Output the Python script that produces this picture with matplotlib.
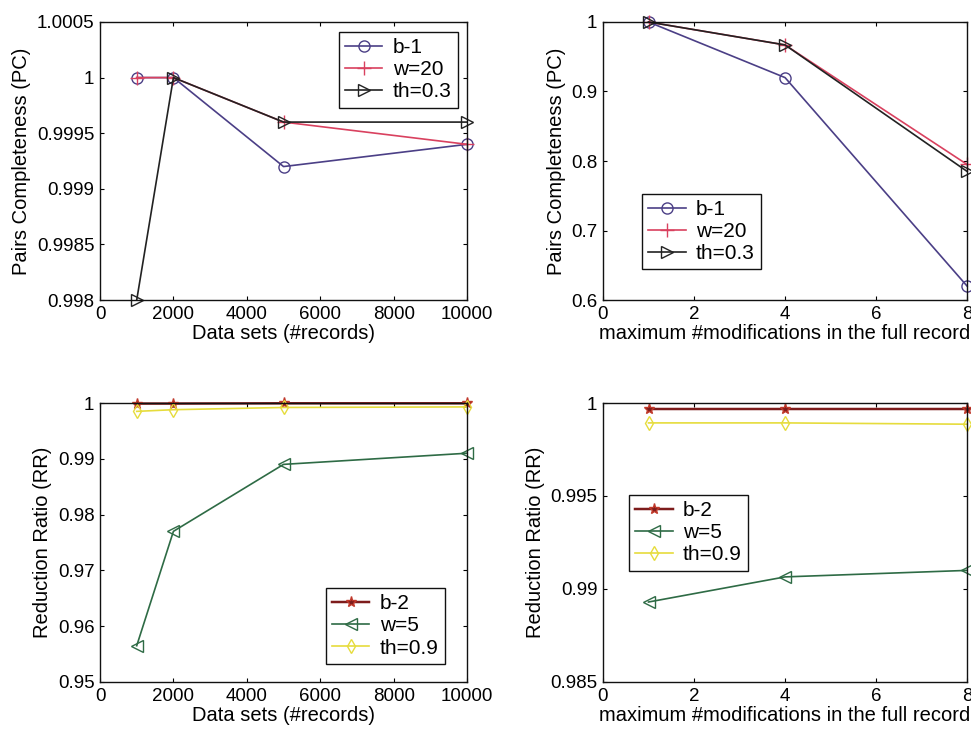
import matplotlib
matplotlib.use("Agg")
import matplotlib.pyplot as plt
from matplotlib.ticker import FuncFormatter

plt.rcParams['font.family'] = ['Liberation Sans', 'DejaVu Sans']
plt.rcParams['font.size'] = 14

# ---- data ----
records = [1000, 2000, 5000, 10000]
mods = [1, 4, 8]

pc_rec_b1 = [1.0, 1.0, 0.9992, 0.9994]
pc_rec_w20 = [1.0, 1.0, 0.9996, 0.9994]
pc_rec_th03 = [0.998, 1.0, 0.9996, 0.9996]

pc_mod_b1 = [1.0, 0.92, 0.62]
pc_mod_w20 = [1.0, 0.967, 0.795]
pc_mod_th03 = [1.0, 0.967, 0.785]

rr_rec_b2 = [0.9999, 0.9999, 0.99995, 0.99995]
rr_rec_w5 = [0.9565, 0.977, 0.989, 0.991]
rr_rec_th09 = [0.9985, 0.9988, 0.9992, 0.9993]

rr_mod_b2 = [0.99966, 0.99966, 0.99966]
rr_mod_w5 = [0.9893, 0.99065, 0.9910]
rr_mod_th09 = [0.99893, 0.99893, 0.99886]

labels_top = ['b-1', 'w=20', 'th=0.3']
labels_bot = ['b-2', 'w=5', 'th=0.9']

c_b1 = '#4b3f86'
c_w20 = '#d9415f'
c_th03 = '#222222'
c_b2 = '#7d1c1c'
c_w5 = '#2e6b45'
c_th09 = '#e6dc3c'

fig = plt.figure(figsize=(9.71, 7.33), dpi=100)
ax1 = fig.add_axes([0.103, 0.5907, 0.378, 0.3793])
ax2 = fig.add_axes([0.621, 0.5907, 0.375, 0.3793])
ax3 = fig.add_axes([0.103, 0.0696, 0.378, 0.3806])
ax4 = fig.add_axes([0.621, 0.0696, 0.375, 0.3806])

def g_fmt(v, pos):
    return '%g' % round(v, 6)

def style(ax):
    ax.tick_params(direction='in', top=True, right=True, length=3, width=0.8, labelsize=13.5, pad=4)
    for s in ax.spines.values():
        s.set_linewidth(1.0)
        s.set_color('#111111')
    ax.yaxis.set_major_formatter(FuncFormatter(g_fmt))
    ax.xaxis.set_major_formatter(FuncFormatter(g_fmt))

leg_kw = dict(fancybox=False, edgecolor='#111111', framealpha=1, handlelength=1.8,
              handletextpad=0.5, borderpad=0.3, labelspacing=0.15, fontsize=15, borderaxespad=0)

lw = 1.2
ms = 8
lab_fs = 14.5
# top-left
ax1.plot(records, pc_rec_b1, color=c_b1, marker='o', mfc='none', ms=ms, lw=lw, label=labels_top[0])
ax1.plot(records, pc_rec_w20, color=c_w20, marker='+', ms=ms + 2, lw=lw, label=labels_top[1])
ax1.plot(records, pc_rec_th03, color=c_th03, marker='>', mfc='none', ms=ms, lw=lw, label=labels_top[2])
ax1.set_xlim(0, 10000)
ax1.set_ylim(0.998, 1.0005)
ax1.set_xticks([0, 2000, 4000, 6000, 8000, 10000])
ax1.set_yticks([0.998, 0.9985, 0.999, 0.9995, 1.0, 1.0005])
ax1.set_xlabel('Data sets (#records)', labelpad=1, fontsize=lab_fs)
ax1.set_ylabel('Pairs Completeness (PC)', labelpad=4, fontsize=lab_fs)
style(ax1)
ax1.legend(loc='upper right', bbox_to_anchor=(0.975, 0.964), **leg_kw)

# top-right
ax2.plot(mods, pc_mod_b1, color=c_b1, marker='o', mfc='none', ms=ms, lw=lw, label=labels_top[0])
ax2.plot(mods, pc_mod_w20, color=c_w20, marker='+', ms=ms + 2, lw=lw, label=labels_top[1])
ax2.plot(mods, pc_mod_th03, color=c_th03, marker='>', mfc='none', ms=ms, lw=lw, label=labels_top[2])
ax2.set_xlim(0, 8)
ax2.set_ylim(0.6, 1.0)
ax2.set_xticks([0, 2, 4, 6, 8])
ax2.set_yticks([0.6, 0.7, 0.8, 0.9, 1.0])
ax2.set_xlabel('maximum #modifications in the full record', labelpad=1, fontsize=lab_fs)
ax2.set_ylabel('Pairs Completeness (PC)', labelpad=4, fontsize=lab_fs)
style(ax2)
ax2.legend(loc='lower left', bbox_to_anchor=(0.107, 0.11), **leg_kw)

# bottom-left
ax3.plot(records, rr_rec_b2, color=c_b2, marker='*', ms=ms, lw=lw + 0.6, label=labels_bot[0], mec='#c0392b')
ax3.plot(records, rr_rec_w5, color=c_w5, marker='<', mfc='none', ms=ms, lw=lw, label=labels_bot[1])
ax3.plot(records, rr_rec_th09, color=c_th09, marker='d', mfc='none', ms=ms - 1, lw=lw, label=labels_bot[2])
ax3.set_xlim(0, 10000)
ax3.set_ylim(0.95, 1.0)
ax3.set_xticks([0, 2000, 4000, 6000, 8000, 10000])
ax3.set_yticks([0.95, 0.96, 0.97, 0.98, 0.99, 1.0])
ax3.set_xlabel('Data sets (#records)', labelpad=1, fontsize=lab_fs)
ax3.set_ylabel('Reduction Ratio (RR)', labelpad=4, fontsize=lab_fs)
style(ax3)
ax3.legend(loc='lower right', bbox_to_anchor=(0.94, 0.065), **leg_kw)

# bottom-right
ax4.plot(mods, rr_mod_b2, color=c_b2, marker='*', ms=ms, lw=lw + 0.6, label=labels_bot[0], mec='#c0392b')
ax4.plot(mods, rr_mod_w5, color=c_w5, marker='<', mfc='none', ms=ms, lw=lw, label=labels_bot[1])
ax4.plot(mods, rr_mod_th09, color=c_th09, marker='d', mfc='none', ms=ms - 1, lw=lw, label=labels_bot[2])
ax4.set_xlim(0, 8)
ax4.set_ylim(0.985, 1.0)
ax4.set_xticks([0, 2, 4, 6, 8])
ax4.set_yticks([0.985, 0.99, 0.995, 1.0])
ax4.set_xlabel('maximum #modifications in the full record', labelpad=1, fontsize=lab_fs)
ax4.set_ylabel('Reduction Ratio (RR)', labelpad=4, fontsize=lab_fs)
style(ax4)
ax4.legend(loc='upper left', bbox_to_anchor=(0.071, 0.671), **leg_kw)

for ax in (ax1, ax2, ax3, ax4):
    for ln in ax.get_lines():
        ln.set_clip_on(False)

fig.savefig('out.png', dpi=100)
